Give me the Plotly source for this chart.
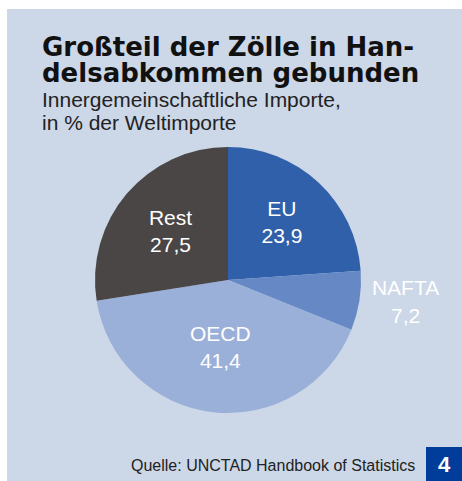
import plotly.graph_objects as go

# data
labels = ["EU", "NAFTA", "OECD", "Rest"]
values = [23.9, 7.2, 41.4, 27.5]
colors = ["#3060aa", "#6688c4", "#9bb0d8", "#4a4646"]
label_pos = ["inside", "outside", "inside", "inside"]

W, H = 462, 481
FONT = "Liberation Sans, Arial, sans-serif"
TITLE_FONT = "DejaVu Sans, Arial Black, sans-serif"


def px(x, y):
    # pixel coords -> paper coords
    return x / W, 1 - y / H


fig = go.Figure()

fig.add_trace(go.Pie(
    labels=labels, values=values,
    sort=False, direction="clockwise", rotation=0,
    marker=dict(colors=colors, line=dict(width=0)),
    texttemplate="%{label}<br>%{value:.1f}",
    textposition=label_pos,
    insidetextorientation="horizontal",
    textfont=dict(family=FONT, size=21, color="white"),
    hoverinfo="label+value",
    showlegend=False,
    domain=dict(x=[95 / W, 361 / W], y=[1 - 413 / H, 1 - 147 / H]),
))

# panel background and page-number box
fig.add_shape(type="rect", xref="paper", yref="paper",
              x0=7 / W, x1=1, y0=0, y1=1 - 9 / H,
              fillcolor="#ccd7e8", line=dict(width=0), layer="below")
fig.add_shape(type="rect", xref="paper", yref="paper",
              x0=426 / W, x1=1, y0=0, y1=1 - 447 / H,
              fillcolor="#003c99", line=dict(width=0))

texts = [
    ("Großteil der Zölle in Han-", 40, 47, 26, "#111111", True),
    ("delsabkommen gebunden", 40, 73, 26, "#111111", True),
    ("Innergemeinschaftliche Importe,", 40, 99, 21, "#222222", False),
    ("in % der Weltimporte", 40, 122, 21, "#222222", False),
]
for t, x, y, size, col, bold in texts:
    xp, yp = px(x, y)
    fig.add_annotation(text=f"<b>{t}</b>" if bold else t, x=xp, y=yp,
                       xref="paper", yref="paper", xanchor="left", yanchor="middle",
                       showarrow=False,
                       font=dict(family=TITLE_FONT if bold else FONT, size=size, color=col))

xp, yp = px(417, 465)
fig.add_annotation(text="Quelle: UNCTAD Handbook of Statistics", x=xp, y=yp,
                   xref="paper", yref="paper", xanchor="right", yanchor="middle",
                   showarrow=False, font=dict(family=FONT, size=16, color="#222222"))
xp, yp = px(444, 464)
fig.add_annotation(text="<b>4</b>", x=xp, y=yp,
                   xref="paper", yref="paper", xanchor="center", yanchor="middle",
                   showarrow=False, font=dict(family=FONT, size=22, color="white"))

fig.update_layout(
    width=W, height=H,
    margin=dict(l=0, r=0, t=0, b=0),
    paper_bgcolor="white", plot_bgcolor="white",
    separators=",.",
)

fig.write_html("out.html", config={"displayModeBar": False},
               post_script="document.body.style.margin='0';document.body.style.overflow='hidden';")
